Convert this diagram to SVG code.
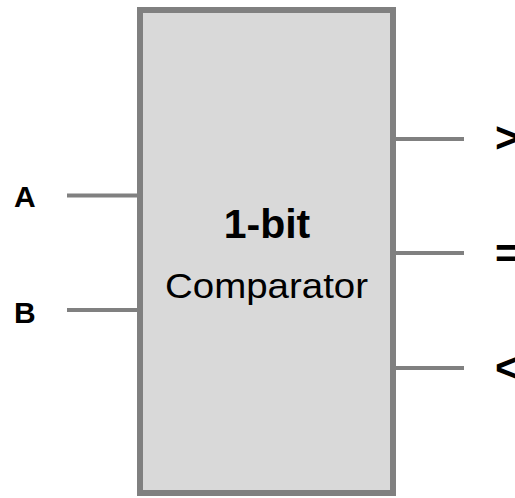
<svg xmlns="http://www.w3.org/2000/svg" width="515" height="498" viewBox="0 0 515 498">
<style>
.wire{stroke:#808080;stroke-width:4;fill:none}
.lbl{font-family:"Liberation Sans",Arial,sans-serif;font-weight:bold;fill:#000}
</style>
<rect width="515" height="498" fill="#fff"/>
<g id="connectors">
<line class="wire" x1="67" y1="195.5" x2="140" y2="195.5"/>
<line class="wire" x1="67" y1="310" x2="140" y2="310"/>
<line class="wire" x1="393" y1="139" x2="464" y2="139"/>
<line class="wire" x1="393" y1="253" x2="464" y2="253"/>
<line class="wire" x1="393" y1="368" x2="464" y2="368"/>
</g>
<g id="comparator">
<rect x="140" y="10" width="253" height="483" fill="#d9d9d9" stroke="#808080" stroke-width="6"/>
<text class="lbl" x="267" y="238" font-size="41" text-anchor="middle">1-bit</text>
<text x="266.5" y="298" font-family="Liberation Sans,Arial,sans-serif" font-size="35" fill="#000" text-anchor="middle" textLength="203" lengthAdjust="spacingAndGlyphs">Comparator</text>
</g>
<g id="in-A"><text class="lbl" x="14" y="207" font-size="30">A</text></g>
<g id="in-B"><text class="lbl" x="14" y="323" font-size="30">B</text></g>
<g id="out-gt"><text class="lbl" x="495" y="152" font-size="42">&gt;</text></g>
<g id="out-eq"><text class="lbl" x="495" y="268" font-size="42">=</text></g>
<g id="out-lt"><text class="lbl" x="495" y="382" font-size="42">&lt;</text></g>
</svg>
